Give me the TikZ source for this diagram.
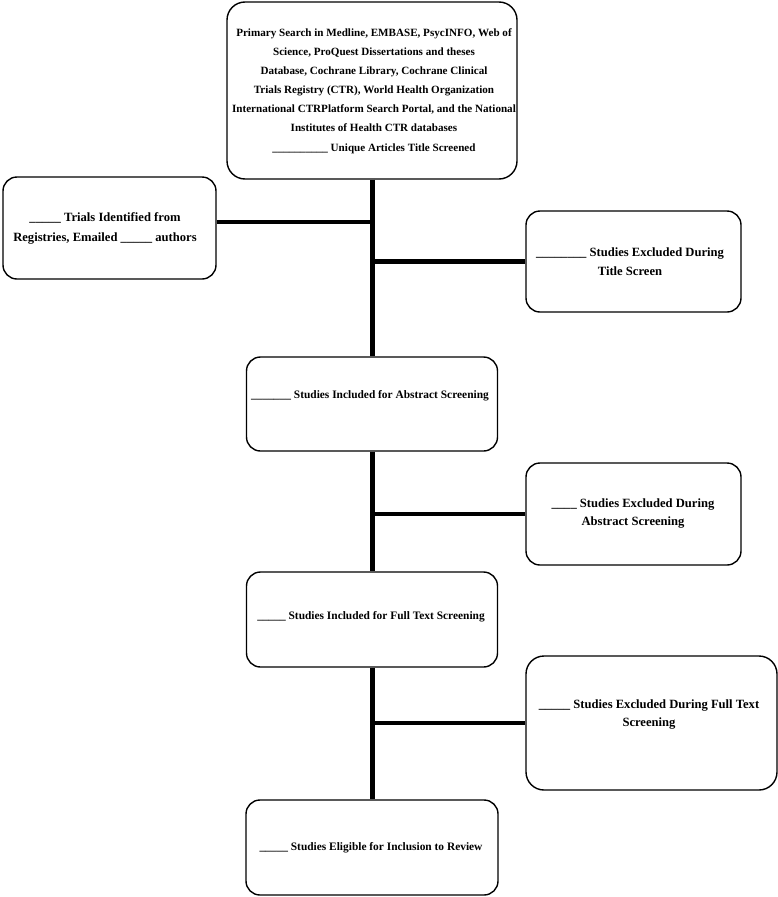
\documentclass[tikz,border=0pt]{standalone}
\usepackage{fontspec}
\setmainfont{Liberation Serif}
\begin{document}
\begin{tikzpicture}[x=1pt,y=-1pt,
  box/.style={draw=black, line width=1.4pt, rounded corners=14pt, inner sep=0pt},
  txt/.style={inner sep=0pt, align=center, font=\fontsize{11.4}{19}\selectfont\bfseries},
  sidetxt/.style={inner sep=0pt, align=center, font=\fontsize{12.6}{19}\selectfont\bfseries},
  trunk/.style={line width=5pt},
  branch/.style={line width=4.5pt}]
\useasboundingbox (0,0) rectangle (778,897);
% boxes
\node[box, minimum width=290pt, minimum height=177pt, rounded corners=18pt] (top) at (372,90.5) {};
\node[box, minimum width=213pt, minimum height=102pt] (left) at (109.5,228) {};
\node[box, minimum width=215pt, minimum height=101pt] (rb1) at (633.5,261.5) {};
\node[box, minimum width=251pt, minimum height=94pt] (mid1) at (372,404) {};
\node[box, minimum width=215pt, minimum height=102pt] (rb2) at (633.5,514) {};
\node[box, minimum width=251pt, minimum height=95pt] (mid2) at (372,619.5) {};
\node[box, minimum width=251pt, minimum height=134pt, rounded corners=18pt] (rb3) at (651.5,723) {};
\node[box, minimum width=252pt, minimum height=95pt] (bot) at (372,847.5) {};
% texts
\node[txt, font=\fontsize{11.1}{19.1}\selectfont\bfseries] (toptxt) at (374,91) {Primary Search in Medline, EMBASE, PsycINFO, Web of\\
Science, ProQuest Dissertations and theses\\
Database, Cochrane Library, Cochrane Clinical\\
Trials Registry (CTR), World Health Organization\\
International CTRPlatform Search Portal, and the National\\
Institutes of Health CTR databases\\
\_\_\_\_\_\_\_\_\_\_ Unique Articles Title Screened};
\node[sidetxt, font=\fontsize{12.6}{20}\selectfont\bfseries] (lefttxt) at (105,228) {\_\_\_\_\_ Trials Identified from\\Registries, Emailed \_\_\_\_\_ authors};
\node[sidetxt, font=\fontsize{12.6}{18.7}\selectfont\bfseries] (rb1txt) at (630,262) {\_\_\_\_\_\_\_\_ Studies Excluded During\\Title Screen};
\node[txt] (mid1txt) at (370,396) {\_\_\_\_\_\_\_ Studies Included for Abstract Screening};
\node[sidetxt, font=\fontsize{12.6}{18.7}\selectfont\bfseries] (rb2txt) at (633,513.5) {\_\_\_\_ Studies Excluded During\\Abstract Screening};
\node[txt] (mid2txt) at (371,617) {\_\_\_\_\_ Studies Included for Full Text Screening};
\node[sidetxt, font=\fontsize{12.6}{18.7}\selectfont\bfseries] (rb3txt) at (649,714.5) {\_\_\_\_\_ Studies Excluded During Full Text\\Screening};
\node[txt] (bottxt) at (371,848) {\_\_\_\_\_ Studies Eligible for Inclusion to Review};
% connectors
\draw[trunk] (top.south) -- (mid1.north);
\draw[trunk] (mid1.south) -- (mid2.north);
\draw[trunk] (mid2.south) -- (bot.north);
\coordinate (jl) at (372,222);
\draw[branch] (left.east |- jl) -- (jl);
\draw[branch] (rb1.west) -- (rb1.west -| top.south);
\draw[branch] (rb2.west) -- (rb2.west -| mid1.south);
\draw[branch] (rb3.west) -- (rb3.west -| mid2.south);
\end{tikzpicture}
\end{document}
